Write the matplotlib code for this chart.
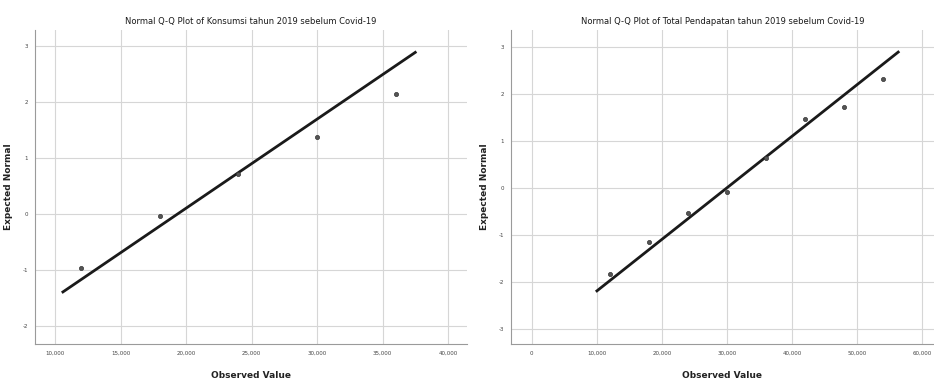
import matplotlib
matplotlib.use('Agg')
import matplotlib.pyplot as plt
import numpy as np
from matplotlib.ticker import FuncFormatter

plt.rcParams['axes.unicode_minus'] = False

# Konsumsi tahun 2019
kons_obs = [12000, 18000, 24000, 30000, 36000]
kons_exp = [-0.97, -0.03, 0.71, 1.38, 2.14]
kons_line_x = [10600, 37500]
kons_line_y = [-1.39, 2.89]

# Total Pendapatan tahun 2019
pend_obs = [12000, 18000, 24000, 30000, 36000, 42000, 48000, 54000]
pend_exp = [-1.83, -1.15, -0.53, -0.08, 0.64, 1.47, 1.72, 2.32]
pend_line_x = [10000, 56300]
pend_line_y = [-2.19, 2.89]

fig = plt.figure(figsize=(9.34, 3.85), dpi=100)
ax1 = fig.add_axes([0.0375, 0.1065, 0.4625, 0.8156])
ax2 = fig.add_axes([0.547, 0.1065, 0.453, 0.8156])

fmt = FuncFormatter(lambda v, p: '{:,.0f}'.format(v))


def style(ax, title):
    ax.set_title(title, fontsize=6, color='#1a1a1a', pad=4.5)
    ax.set_xlabel('Observed Value', fontsize=6.5, fontweight='bold', color='#222222')
    ax.set_ylabel('Expected Normal', fontsize=6.5, fontweight='bold', color='#222222')
    ax.xaxis.set_label_coords(0.5, -0.085)
    ax.yaxis.set_label_coords(-0.052, 0.5)
    ax.grid(True, color='#d6d6d6', linewidth=0.8)
    ax.set_axisbelow(True)
    for s in ['top', 'right']:
        ax.spines[s].set_visible(False)
    for s in ['left', 'bottom']:
        ax.spines[s].set_color('#9a9a9a')
        ax.spines[s].set_linewidth(0.8)
    ax.tick_params(length=0, labelsize=4, colors='#444444', pad=5)
    ax.xaxis.set_major_formatter(fmt)


ax1.plot(kons_line_x, kons_line_y, color='#1a1a1a', linewidth=2)
ax1.scatter(kons_obs, kons_exp, s=9, color='#555555', edgecolors='#333333', linewidths=0.5, zorder=3)
ax1.set_xlim(8470, 41450)
ax1.set_ylim(-2.32, 3.29)
ax1.set_xticks(np.arange(10000, 40001, 5000))
ax1.set_yticks([-2, -1, 0, 1, 2, 3])
style(ax1, 'Normal Q-Q Plot of Konsumsi tahun 2019 sebelum Covid-19')

ax2.plot(pend_line_x, pend_line_y, color='#1a1a1a', linewidth=2)
ax2.scatter(pend_obs, pend_exp, s=9, color='#555555', edgecolors='#333333', linewidths=0.5, zorder=3)
ax2.set_xlim(-3220, 61800)
ax2.set_ylim(-3.32, 3.36)
ax2.set_xticks(np.arange(0, 60001, 10000))
ax2.set_yticks([-3, -2, -1, 0, 1, 2, 3])
style(ax2, 'Normal Q-Q Plot of Total Pendapatan tahun 2019 sebelum Covid-19')

fig.savefig('out.png', dpi=100)
